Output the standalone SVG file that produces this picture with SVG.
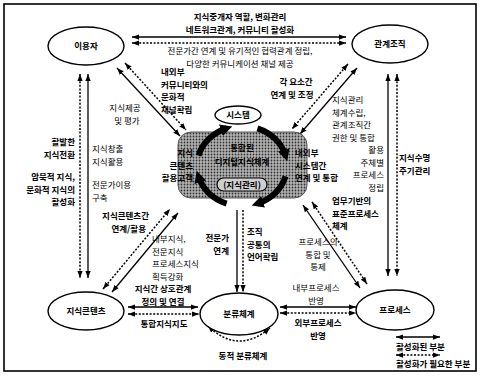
<svg xmlns="http://www.w3.org/2000/svg" width="480" height="376" viewBox="0 0 480 376">
<defs>
<style>
.t{font-family:"Noto Sans CJK KR","Noto Sans",sans-serif;font-size:8.5px;fill:#000}
.b{font-weight:bold}
.r{font-weight:normal}
.m{text-anchor:middle}
.e{text-anchor:end}
.s{stroke:#000;stroke-width:1.3;fill:none}
.d{stroke:#000;stroke-width:1.5;fill:none;stroke-dasharray:2 1.6}
.n{fill:#fff;stroke:#000;stroke-width:1.4}
.ring{stroke:#000;stroke-width:6;fill:none}
</style>
<marker id="a" viewBox="0 0 8 6" refX="8" refY="3" markerWidth="7" markerHeight="6" markerUnits="userSpaceOnUse" orient="auto-start-reverse"><path d="M0,0 L8,3 L0,6 z" fill="#000"/></marker>
<marker id="ra" viewBox="0 0 8 8" refX="4" refY="4" markerWidth="12" markerHeight="12" markerUnits="userSpaceOnUse" orient="auto"><path d="M0,0 L8,4 L0,8 z" fill="#000"/></marker>
<pattern id="ht" width="3" height="3" patternUnits="userSpaceOnUse"><rect width="3" height="3" fill="#b4b4b4"/><circle cx="1.5" cy="1.5" r="0.9" fill="#333"/></pattern>
</defs>
<rect x="4" y="4" width="472" height="367" fill="#fff" stroke="#000" stroke-width="1.6"/>

<g id="connectors">
<line class="s" x1="132" y1="37" x2="346" y2="37" marker-start="url(#a)" marker-end="url(#a)"/>
<line class="d" x1="132" y1="43" x2="346" y2="43" marker-start="url(#a)" marker-end="url(#a)"/>
<line class="d" x1="80" y1="74" x2="80" y2="278" marker-start="url(#a)" marker-end="url(#a)"/>
<line class="s" x1="88" y1="74" x2="88" y2="278" marker-start="url(#a)" marker-end="url(#a)"/>
<line class="s" x1="388" y1="74" x2="388" y2="276" marker-start="url(#a)" marker-end="url(#a)"/>
<line class="d" x1="397" y1="74" x2="397" y2="276" marker-start="url(#a)" marker-end="url(#a)"/>
<line class="s" x1="128" y1="307" x2="198" y2="307" marker-start="url(#a)" marker-end="url(#a)"/>
<line class="d" x1="128" y1="314" x2="199" y2="314" marker-start="url(#a)" marker-end="url(#a)"/>
<line class="s" x1="280" y1="307" x2="356" y2="307" marker-start="url(#a)" marker-end="url(#a)"/>
<line class="d" x1="280" y1="313" x2="356" y2="313" marker-start="url(#a)" marker-end="url(#a)"/>
<line class="s" x1="237" y1="210" x2="237" y2="292" marker-end="url(#a)"/>
<line class="d" x1="243" y1="210" x2="243" y2="292" marker-end="url(#a)"/>
<line class="s" x1="117" y1="68" x2="180" y2="136" marker-start="url(#a)" marker-end="url(#a)"/>
<line class="d" x1="125" y1="63" x2="186" y2="130" marker-start="url(#a)" marker-end="url(#a)"/>
<line class="d" x1="348" y1="64" x2="292" y2="129" marker-start="url(#a)" marker-end="url(#a)"/>
<line class="s" x1="357" y1="68" x2="300" y2="134" marker-start="url(#a)" marker-end="url(#a)"/>
<line class="d" x1="103" y1="289" x2="170" y2="209" marker-start="url(#a)" marker-end="url(#a)"/>
<line class="s" x1="112" y1="292" x2="178" y2="213" marker-start="url(#a)" marker-end="url(#a)"/>
<line class="s" x1="303" y1="205" x2="360" y2="288" marker-start="url(#a)" marker-end="url(#a)"/>
<line class="d" x1="312" y1="202" x2="367" y2="284" marker-start="url(#a)" marker-end="url(#a)"/>
<path class="d" d="M208,326 Q238,355 270,328" marker-start="url(#a)" marker-end="url(#a)"/>
<line class="s" x1="396" y1="337" x2="440" y2="337" marker-start="url(#a)" marker-end="url(#a)"/>
<line class="d" x1="396" y1="355" x2="440" y2="355" marker-start="url(#a)" marker-end="url(#a)"/>
</g>

<g id="center">
<rect x="178" y="132" width="129" height="66" rx="13" fill="url(#ht)" stroke="#555" stroke-width="1"/>
<path class="ring" d="M198.5,155.6 A45,40 0 0 1 226.6,128.4" marker-end="url(#ra)"/>
<path class="ring" d="M257.4,128.4 A45,40 0 0 1 285.5,155.6" marker-end="url(#ra)"/>
<path class="ring" d="M285.5,176.4 A45,40 0 0 1 257.4,203.6" marker-end="url(#ra)"/>
<path class="ring" d="M226.6,203.6 A45,40 0 0 1 198.5,176.4" marker-end="url(#ra)"/>
<text class="t b m" x="242" y="151">통합된</text>
<text class="t b m" x="242" y="165">디지털지식체계</text>
<rect x="217" y="178" width="50" height="13" rx="6.5" fill="#cfcfcf" stroke="#000" stroke-width="1.2"/>
<text class="t b m" x="242" y="188">(지식관리)</text>
<text class="t b e" x="193" y="156">지식</text>
<text class="t b e" x="193" y="168.5">콘텐츠</text>
<text class="t b e" x="193" y="181">활용고객</text>
<text class="t b" x="295" y="156">내외부</text>
<text class="t b" x="295" y="168.5">시스템간</text>
<text class="t b" x="295" y="181">연계 및 통합</text>
</g>

<g id="system">
<ellipse class="n" cx="238" cy="115" rx="23" ry="9"/>
<text class="t b m" x="238" y="118">시스템</text>
</g>
<g id="user">
<ellipse class="n" cx="86" cy="46" rx="38" ry="19"/>
<text class="t b m" x="86" y="49">이용자</text>
</g>
<g id="org">
<ellipse class="n" cx="390" cy="44" rx="38" ry="19"/>
<text class="t b m" x="390" y="47">관계조직</text>
</g>
<g id="content">
<ellipse class="n" cx="86" cy="311" rx="38" ry="19"/>
<text class="t b m" x="86" y="314">지식콘텐츠</text>
</g>
<g id="taxonomy">
<ellipse class="n" cx="239" cy="314" rx="39" ry="21"/>
<text class="t b m" x="239" y="317">분류체계</text>
</g>
<g id="process">
<ellipse class="n" cx="395" cy="310" rx="39" ry="20"/>
<text class="t b m" x="395" y="313">프로세스</text>
</g>

<g id="labels">
<text class="t b m" x="240" y="20">지식중개자 역할, 변화관리</text>
<text class="t b m" x="240" y="33">네트워크관계, 커뮤니티 활성화</text>
<text class="t r m" x="240" y="54">전문가간 연계 및 유기적인 협력관계 정립,</text>
<text class="t r m" x="240" y="67">다양한 커뮤니케이션 채널 제공</text>

<text class="t r m" x="125" y="111">지식제공</text>
<text class="t r m" x="127" y="124">및 평가</text>
<text class="t b" x="161" y="75">내외부</text>
<text class="t b" x="161" y="87.5">커뮤니티와의</text>
<text class="t b" x="161" y="100">문화적</text>
<text class="t b" x="161" y="112.5">채널확립</text>

<text class="t b m" x="296" y="85">각 요소간</text>
<text class="t b m" x="292" y="98">연계 및 조정</text>
<text class="t r" x="332" y="103">지식관리</text>
<text class="t r" x="332" y="115.5">체계수립,</text>
<text class="t r" x="332" y="128">관계조직간</text>
<text class="t r" x="332" y="140.5">권한 및 통합</text>

<text class="t b e" x="75" y="145">활발한</text>
<text class="t b e" x="75" y="157.5">지식전환</text>
<text class="t b e" x="75" y="180">암묵적 지식,</text>
<text class="t b e" x="75" y="192.5">문화적 지식의</text>
<text class="t b e" x="75" y="205">활성화</text>
<text class="t r" x="92" y="152">지식창출</text>
<text class="t r" x="92" y="164.5">지식활용</text>
<text class="t r" x="92" y="188">전문가이용</text>
<text class="t r" x="92" y="200.5">구축</text>
<text class="t b e" x="149" y="219">지식콘텐츠간</text>
<text class="t b e" x="146" y="231.5">연계/활용</text>

<text class="t r e" x="384" y="153">활용</text>
<text class="t r e" x="384" y="165.5">주체별</text>
<text class="t r e" x="384" y="178">프로세스</text>
<text class="t r e" x="384" y="190.5">정립</text>
<text class="t b" x="332" y="204">업무기반의</text>
<text class="t b" x="332" y="216.5">표준프로세스</text>
<text class="t b" x="332" y="229">체계</text>
<text class="t b" x="399" y="161">지식수명</text>
<text class="t b" x="399" y="173.5">주기관리</text>

<text class="t r" x="152" y="242">내부지식,</text>
<text class="t r" x="152" y="254.5">전문지식</text>
<text class="t r" x="152" y="267">프로세스지식</text>
<text class="t r" x="152" y="279.5">획득강화</text>
<text class="t b e" x="229" y="241">전문가</text>
<text class="t b e" x="229" y="253.5">연계</text>
<text class="t b" x="247" y="235">조직</text>
<text class="t b" x="247" y="247.5">공통의</text>
<text class="t b" x="247" y="260">언어확립</text>
<text class="t r m" x="318" y="245">프로세스의</text>
<text class="t r m" x="318" y="257.5">통합 및</text>
<text class="t r m" x="318" y="270">통제</text>

<text class="t b m" x="163" y="292">지식간 상호관계</text>
<text class="t b m" x="163" y="304.5">정의 및 연결</text>
<text class="t b m" x="164" y="327">통합지식지도</text>
<text class="t r m" x="316" y="291">내부프로세스</text>
<text class="t r m" x="316" y="303.5">반영</text>
<text class="t b m" x="318" y="326">외부프로세스</text>
<text class="t b m" x="318" y="338.5">반영</text>
<text class="t b m" x="243" y="359">동적 분류체계</text>

<text class="t b" x="396" y="350">활성화된 부분</text>
<text class="t b" x="396" y="367">활성화가 필요한 부분</text>
</g>
</svg>
